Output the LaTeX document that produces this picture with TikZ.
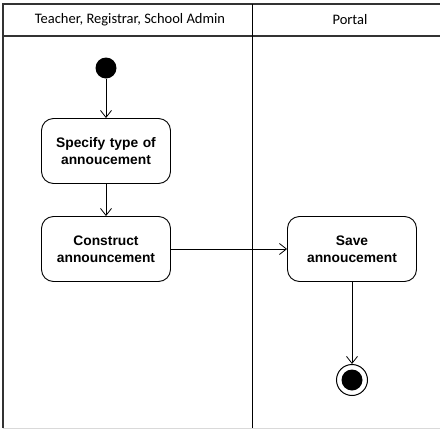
\documentclass[tikz,border=0pt]{standalone}
\usepackage{fontspec}
\setmainfont{Liberation Sans}
\newfontfamily\lanefont{Carlito}
\usetikzlibrary{arrows.meta}

\begin{document}
\begin{tikzpicture}[x=1pt,y=-1pt,
    action/.style={draw,rounded corners=12pt,minimum width=129pt,minimum height=65pt,text width=120pt,align=center,font=\bfseries\fontsize{13.8}{17}\selectfont,line width=0.9pt},
    lane/.style={font=\lanefont\fontsize{14.5}{17}\selectfont},
    flow/.style={draw,line width=0.8pt,-{Straight Barb[length=7pt,width=11pt,line width=0.8pt]}}
]
\useasboundingbox (0,0) rectangle (440,429);

% swimlanes
\draw[line width=1.6pt,black!80] (3,428) -- (3,4) -- (440,4);
\draw[line width=1.4pt,black!80] (3,36) -- (440,36);
\draw[line width=1pt] (252,4) -- (252,429);
\draw[black!15,line width=0.8pt] (3,428) -- (440,428);
\node[lane] (teacher) at (130,20) {Teacher, Registrar, School Admin};
\node[lane] (portal) at (350,20) {Portal};

% activities
\node[circle,fill=black,inner sep=0pt,minimum size=21pt] (start) at (106,68) {};
\node[action] (specify) at (106,151) {Specify type of\\annoucement};
\node[action] (construct) at (106,249) {Construct\\announcement};
\node[action] (save) at (352,249) {Save\\annoucement};
\node[circle,draw,line width=1pt,minimum size=31pt,inner sep=0pt] (stop) at (352,380) {};
\node[circle,fill=black,inner sep=0pt,minimum size=21pt] (stopdot) at (stop) {};

\draw[flow] (start) -- (specify);
\draw[flow] (specify) -- (construct);
\draw[flow] (construct) -- (save);
\draw[flow] (save) -- (stop);
\end{tikzpicture}
\end{document}
